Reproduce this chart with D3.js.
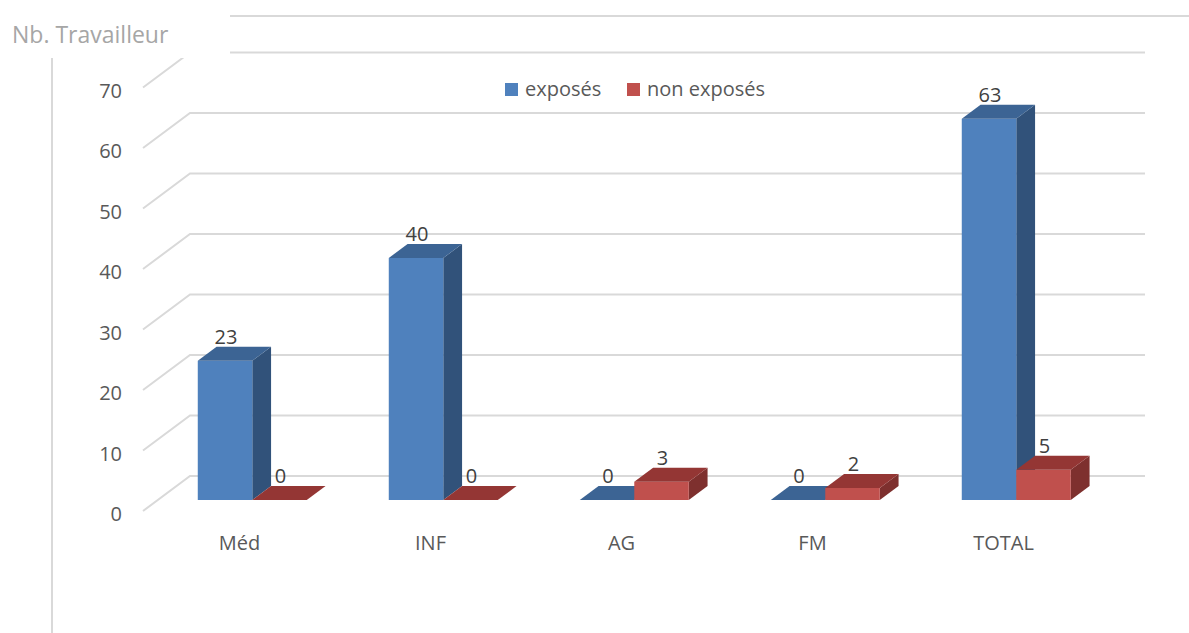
<!DOCTYPE html>
<html>
<head>
<meta charset="utf-8">
<script src="https://cdnjs.cloudflare.com/ajax/libs/d3/7.8.5/d3.min.js"></script>
<style>
  body { margin: 0; background: #fff; }
  text { font-family: "Open Sans", sans-serif; }
</style>
</head>
<body>
<div id="chart"></div>
<script>

var categories = ["Méd", "INF", "AG", "FM", "TOTAL"];
var exposes = [23, 40, 0, 0, 63];
var nonExposes = [0, 0, 3, 2, 5];
var seriesNames = ["exposés", "non exposés"];
var yTicks = [0, 10, 20, 30, 40, 50, 60, 70];

var width = 1189, height = 633;

// depth of the 3d box (px up / px right)
var depthY = 35, depthX = 47;
var barFront = 11, barBack = 25;

var svg = d3.select("#chart").append("svg")
    .attr("width", width)
    .attr("height", height);

var xScale = d3.scaleBand()
    .domain(categories)
    .range([143, 1098]);

var groupW = 109;
var xSub = d3.scaleBand()
    .domain(seriesNames)
    .range([0, groupW]);

var yScale = d3.scaleLinear()
    .domain([0, 70])
    .range([511, 87.5]);

// point on the front plane pushed back by d
function pt(x, v, d) {
  return [x + d * depthX / depthY, yScale(v) - d];
}

var lineCol = "#d9d9d9";

// gridlines: left wall + back wall
yTicks.forEach(function(t) {
  var a = pt(xScale.range()[0], t, 0),
      b = pt(xScale.range()[0], t, depthY),
      c = pt(xScale.range()[1], t, depthY);
  svg.append("polyline")
    .attr("points", [a, b, c].map(function(p) { return p.join(","); }).join(" "))
    .attr("fill", "none")
    .attr("stroke", lineCol)
    .attr("stroke-width", 2);
});

// white patch behind the title, with the frame lines
svg.append("rect")
    .attr("x", 0).attr("y", 0)
    .attr("width", 230).attr("height", 58)
    .attr("fill", "#fff");

svg.append("line")
    .attr("x1", 230).attr("y1", 16)
    .attr("x2", width).attr("y2", 16)
    .attr("stroke", lineCol).attr("stroke-width", 2);

svg.append("line")
    .attr("x1", 52).attr("y1", 58)
    .attr("x2", 52).attr("y2", height)
    .attr("stroke", lineCol).attr("stroke-width", 2);

svg.append("text")
    .attr("x", 12)
    .attr("y", 43)
    .style("font-size", "23px")
    .attr("fill", "#a6a6a6")
    .text("Nb. Travailleur");

// y tick labels
svg.selectAll(".ytick")
    .data(yTicks)
    .enter().append("text")
    .attr("x", 122)
    .attr("y", function(d) { return yScale(d) + 10; })
    .attr("text-anchor", "end")
    .style("font-size", "20px")
    .attr("fill", "#595959")
    .text(function(d) { return d; });

// category labels
svg.selectAll(".xtick")
    .data(categories)
    .enter().append("text")
    .attr("x", function(d) { return xScale(d) + xScale.bandwidth() / 2 + 1; })
    .attr("y", 550)
    .attr("text-anchor", "middle")
    .style("font-size", "20px")
    .attr("fill", "#595959")
    .text(function(d) { return d; });

var colors = [
  { front: "#4f81bd", top: "#3c6494", side: "#31527a" },
  { front: "#c0504d", top: "#943634", side: "#7e302e" }
];

function poly(pts) {
  return pts.map(function(p) { return p.join(","); }).join(" ");
}

// bars, one category at a time, blue then red
categories.forEach(function(cat, i) {
  var vals = [exposes[i], nonExposes[i]];
  vals.forEach(function(v, s) {
    var x1 = xScale(cat) + (xScale.bandwidth() - groupW) / 2 + xSub(seriesNames[s]) - 1;
    var x2 = x1 + xSub.bandwidth();
    var c = colors[s];

    var fbl = pt(x1, 0, barFront), fbr = pt(x2, 0, barFront),
        ftl = pt(x1, v, barFront), ftr = pt(x2, v, barFront),
        btl = pt(x1, v, barBack), btr = pt(x2, v, barBack),
        bbr = pt(x2, 0, barBack);

    if (v > 0) {
      svg.append("polygon")
        .attr("points", poly([fbr, ftr, btr, bbr]))
        .attr("fill", c.side);
      svg.append("polygon")
        .attr("points", poly([fbl, fbr, ftr, ftl]))
        .attr("fill", c.front);
    }
    svg.append("polygon")
      .attr("points", poly([ftl, ftr, btr, btl]))
      .attr("fill", c.top);

    svg.append("text")
      .attr("x", (ftl[0] + ftr[0]) / 2 + 1)
      .attr("y", btl[1] - 3)
      .attr("text-anchor", "middle")
      .style("font-size", "20px")
      .attr("fill", "#404040")
      .text(v);
  });
});

// legend
var legend = svg.append("g").attr("transform", "translate(505,83)");
var legX = [0, 122];
seriesNames.forEach(function(name, s) {
  legend.append("rect")
    .attr("x", legX[s]).attr("y", 0)
    .attr("width", 13).attr("height", 13)
    .attr("fill", colors[s].front);
  legend.append("text")
    .attr("x", legX[s] + 20)
    .attr("y", 13)
    .style("font-size", "20px")
    .attr("fill", "#595959")
    .text(name);
});

</script>
</body>
</html>
